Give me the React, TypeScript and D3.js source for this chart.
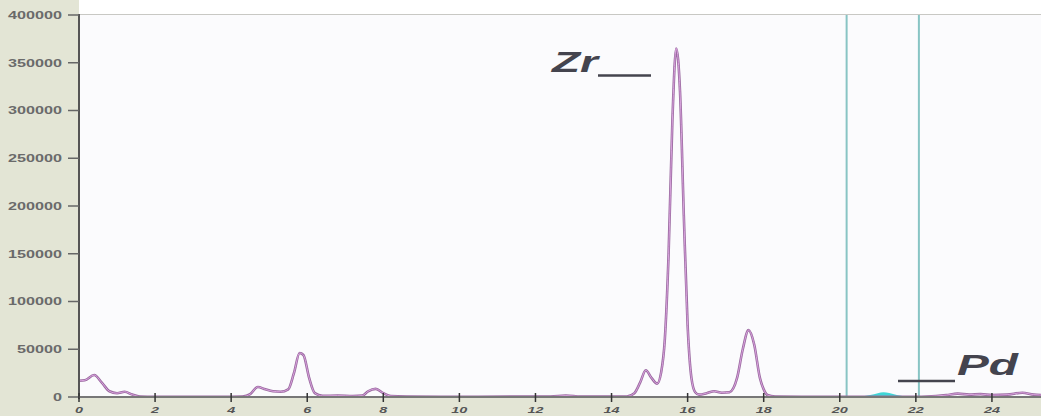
import React from "react";
import * as d3 from "d3";

const W = 1041;
const H = 416;

// spectrum (energy keV, counts)
const energy = [0, 0.15, 0.4, 0.6, 0.8, 1.0, 1.2, 1.4, 1.6, 2.0, 3.0, 4.0, 4.3, 4.5, 4.7, 4.9, 5.1, 5.3, 5.5, 5.65, 5.8, 5.9, 6.05, 6.2, 6.4, 6.8, 7.2, 7.45, 7.6, 7.8, 8.0, 8.2, 8.6, 9.5, 10.5, 11.5, 12.4, 12.8, 13.2, 14.0, 14.4, 14.6, 14.75, 14.9, 15.05, 15.2, 15.3, 15.4, 15.5, 15.6, 15.7, 15.8, 15.9, 16.0, 16.1, 16.2, 16.3, 16.5, 16.7, 16.9, 17.1, 17.3, 17.45, 17.6, 17.75, 17.9, 18.0, 18.1, 18.3, 19.0, 20.0, 21.0, 22.0, 22.3, 22.8, 23.1, 23.4, 23.7, 24.0, 24.4, 24.8, 25.1, 25.4];
const counts = [17000, 17500, 23000, 15000, 6000, 4000, 5500, 2500, 500, 200, 200, 300, 500, 3000, 10500, 8000, 6000, 5500, 8000, 25000, 46000, 44000, 20000, 4000, 1200, 1500, 1000, 1500, 6000, 8500, 4000, 1000, 500, 300, 300, 400, 500, 1500, 400, 400, 600, 4000, 15000, 28000, 20000, 14000, 25000, 60000, 150000, 290000, 365000, 320000, 190000, 75000, 20000, 5000, 2500, 4000, 6000, 4500, 5000, 20000, 50000, 70000, 55000, 20000, 8000, 2000, 500, 300, 300, 300, 300, 500, 2000, 3500, 2500, 3000, 2000, 2500, 4500, 2500, 2000];

// Pd region-of-interest fill
const roiEnergy = [20.2, 20.5, 20.8, 21.0, 21.15, 21.3, 21.5, 21.8, 22.1];
const roiCounts = [0, 300, 2000, 4000, 5000, 4200, 2000, 400, 0];
const roiMarkers = [20.18, 22.08];

const yTicks = [0, 50000, 100000, 150000, 200000, 250000, 300000, 350000, 400000];
const xTicks = [0, 2, 4, 6, 8, 10, 12, 14, 16, 18, 20, 22, 24];

const LEFT = 79;
const TOP = 15;
const BOTTOM = 397;

export default function App() {
  const x = d3.scaleLinear().domain([0, 25.29]).range([LEFT, W]);
  const y = d3.scaleLinear().domain([0, 400000]).range([BOTTOM, TOP]);

  const pts = energy.map((e, i) => [e, counts[i]] as [number, number]);
  const line = d3
    .line<[number, number]>()
    .x((d) => x(d[0]))
    .y((d) => y(d[1]))
    .curve(d3.curveMonotoneX);
  const roiPts = roiEnergy.map((e, i) => [e, roiCounts[i]] as [number, number]);
  const area = d3
    .area<[number, number]>()
    .x((d) => x(d[0]))
    .y0(y(0))
    .y1((d) => y(d[1]))
    .curve(d3.curveMonotoneX);

  const labelFont = "'Liberation Sans', Arial, sans-serif";

  return (
    <div style={{ position: "absolute", left: 0, top: 0, width: W, height: H, overflow: "hidden" }}>
      <svg width={W} height={H} style={{ display: "block" }}>
        <defs>
          <clipPath id="plotClip">
            <rect x={LEFT} y={TOP} width={W - LEFT} height={BOTTOM - TOP + 1} />
          </clipPath>
        </defs>
        {/* backgrounds */}
        <rect x={0} y={0} width={W} height={H} fill="#e3e5d5" />
        <rect x={LEFT} y={0} width={W - LEFT} height={TOP - 1} fill="#ffffff" />
        <rect x={LEFT} y={TOP - 1} width={W - LEFT} height={1.5} fill="#c8c8c4" />
        <rect x={LEFT} y={TOP} width={W - LEFT} height={BOTTOM - TOP} fill="#fbfbfd" />

        {/* ROI markers */}
        {roiMarkers.map((m, i) => (
          <line key={i} x1={x(m)} x2={x(m)} y1={TOP} y2={BOTTOM} stroke="#88c4c4" strokeWidth={2} />
        ))}
        <path d={area(roiPts) || ""} fill="#3fd6d6" clipPath="url(#plotClip)" />

        {/* spectrum */}
        <g clipPath="url(#plotClip)">
          <path d={line(pts) || ""} fill="none" stroke="#9a6aa0" strokeWidth={2.6} strokeLinejoin="round" />
          <path d={line(pts) || ""} fill="none" stroke="#e0a8e4" strokeWidth={0.9} strokeLinejoin="round" />
        </g>

        {/* y axis */}
        <line x1={LEFT} x2={LEFT} y1={TOP - 1} y2={BOTTOM + 2} stroke="#555" strokeWidth={2} />
        {yTicks.map((t) => (
          <g key={t}>
            <line x1={LEFT - 11} x2={LEFT} y1={y(t)} y2={y(t)} stroke="#666" strokeWidth={1.5} />
            <text
              x={62}
              y={Math.max(y(t), 10)}
              dy="0.36em"
              textAnchor="end"
              fontFamily={labelFont}
              fontWeight="bold"
              fontSize={11}
              fill="#6a6a6a"
              textLength={String(t).length * 9}
              lengthAdjust="spacingAndGlyphs"
            >
              {t}
            </text>
          </g>
        ))}

        {/* x axis */}
        <line x1={LEFT} x2={W} y1={BOTTOM} y2={BOTTOM} stroke="#777" strokeWidth={2} />
        {xTicks.map((t) => (
          <g key={t}>
            <line x1={x(t)} x2={x(t)} y1={BOTTOM - 4} y2={BOTTOM + 5} stroke="#333" strokeWidth={1.5} />
            <text
              x={x(t)}
              y={413}
              textAnchor="middle"
              fontFamily={labelFont}
              fontWeight="bold"
              fontStyle="italic"
              fontSize={9}
              fill="#555"
              textLength={String(t).length * 8}
              lengthAdjust="spacingAndGlyphs"
            >
              {t}
            </text>
          </g>
        ))}

        {/* element labels */}
        <text x={552} y={72} fontFamily={labelFont} fontWeight="bold" fontStyle="italic" fontSize={30} fill="#44444e" textLength={46} lengthAdjust="spacingAndGlyphs">
          Zr
        </text>
        <line x1={598} x2={651} y1={75.5} y2={75.5} stroke="#44444e" strokeWidth={2.5} />
        <line x1={898} x2={955} y1={381} y2={381} stroke="#44444e" strokeWidth={2.5} />
        <text x={957} y={375} fontFamily={labelFont} fontWeight="bold" fontStyle="italic" fontSize={30} fill="#44444e" textLength={61} lengthAdjust="spacingAndGlyphs">
          Pd
        </text>
      </svg>
    </div>
  );
}
